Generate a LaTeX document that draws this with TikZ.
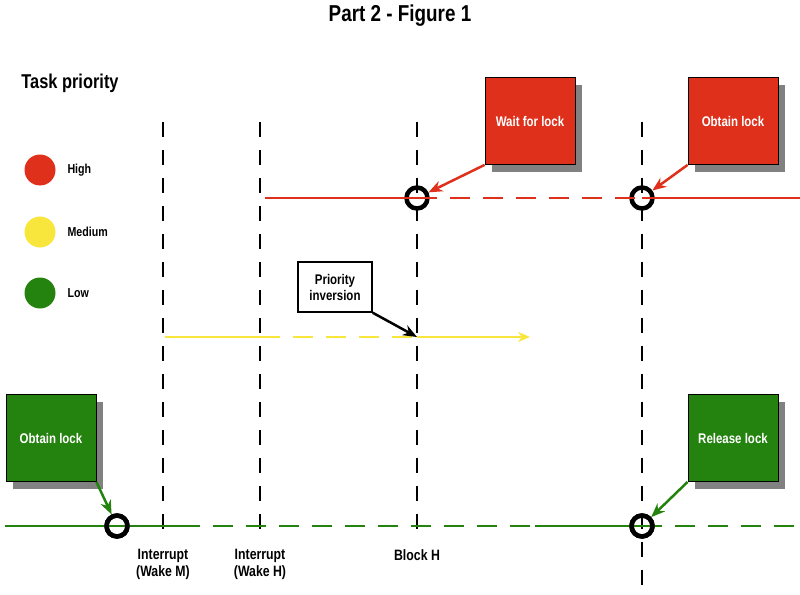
\documentclass[tikz,border=0pt]{standalone}
\usepackage{fontspec}
\setmainfont{Liberation Sans}[FakeStretch=0.82]
\usetikzlibrary{arrows.meta,shadows}
\definecolor{hired}{RGB}{222,48,26}
\definecolor{medyel}{RGB}{248,230,60}
\definecolor{lowgrn}{RGB}{36,130,14}
\tikzset{
  vline/.style={black,line width=2pt,dash pattern=on 15pt off 13pt},
  ring/.style={circle,draw=black,line width=4.5pt,minimum size=21pt,inner sep=0pt},
  lockbox/.style={draw=black,line width=0.8pt,minimum width=90pt,minimum height=87pt,
    text=white,font=\bfseries\fontsize{14}{16}\selectfont,
    drop shadow={shadow xshift=7pt,shadow yshift=-7pt,fill=black!70,opacity=.7}},
  dot/.style={circle,minimum size=31pt,inner sep=0pt},
  legend/.style={anchor=west,font=\bfseries\fontsize{13}{15}\selectfont},
  tick/.style={font=\bfseries\fontsize{15}{17}\selectfont,align=center},
  ptr/.style={line width=2.5pt,-{Stealth[length=14pt,width=11pt]}}
}
\begin{document}
\begin{tikzpicture}[x=1pt,y=-1pt]
\useasboundingbox (0,0) rectangle (800,594);
% headings
\node[font=\bfseries\fontsize{23}{27}\selectfont] (title) at (400,16) {Part 2 - Figure 1};
\node[font=\bfseries\fontsize{20}{24}\selectfont] (prio) at (70,83) {Task priority};
% legend
\node[dot,fill=hired] (dhigh) at (40,170) {};
\node[legend] at (64,170) {High};
\node[dot,fill=medyel] (dmed) at (40,232) {};
\node[legend] at (64,232) {Medium};
\node[dot,fill=lowgrn] (dlow) at (40,293) {};
\node[legend] at (64,293) {Low};
% time marks
\foreach \x/\name/\bot in {163/wm/540,260/wh/540,417/bh/540,642/rl/594}{
  \coordinate (\name top) at (\x,122);
  \coordinate (\name bot) at (\x,\bot);
  \draw[vline] (\name top) -- (\name bot);
}
\node[tick,anchor=north] (lwm) at (163,546) {Interrupt\\(Wake M)};
\node[tick,anchor=north] (lwh) at (260,546) {Interrupt\\(Wake H)};
\node[tick,anchor=north] (lbh) at (417,546) {Block H};
% high task
\coordinate (hs) at (265,198);
\coordinate (he) at (800,198);
\node[ring] (hblock) at (417,198) {};
\node[ring] (hget) at (642,198) {};
\draw[hired,line width=2.5pt] (hs) -- (hblock.center);
\draw[hired,line width=2.5pt,dash pattern=on 20pt off 13pt] (hblock.center) -- (hget.center);
\draw[hired,line width=2.5pt] (hget.center) -- (he);
% medium task
\coordinate (ms) at (165,337);
\coordinate (mw) at (260,337);
\coordinate (mb) at (417,337);
\coordinate (me) at (530,337);
\draw[medyel,line width=2.5pt] (ms) -- (mw);
\draw[medyel,line width=2.5pt,dash pattern=on 20pt off 13pt] (mw) -- (mb);
\draw[medyel,line width=2.5pt,-{Stealth[length=12pt,width=10pt]}] (mb) -- (me);
% low task
\coordinate (ls) at (5,526);
\coordinate (l1) at (180,526);
\coordinate (l2) at (535,526);
\coordinate (le) at (800,526);
\node[ring] (lget) at (117,526) {};
\node[ring] (lrel) at (642,526) {};
\draw[lowgrn,line width=2.5pt] (ls) -- (l1);
\draw[lowgrn,line width=2.5pt,dash pattern=on 20pt off 13pt] (l1) -- (l2);
\draw[lowgrn,line width=2.5pt] (l2) -- (lrel.center);
\draw[lowgrn,line width=2.5pt,dash pattern=on 20pt off 13pt] (lrel.center) -- (le);
\node[ring] at (lget) {};
\node[ring] at (lrel) {};
% callouts
\node[lockbox,fill=hired] (wait) at (530,121) {Wait for lock};
\node[lockbox,fill=hired] (hobt) at (733,121) {Obtain lock};
\node[lockbox,fill=lowgrn] (lobt) at (51,438) {Obtain lock};
\node[lockbox,fill=lowgrn] (lrls) at (733,438) {Release lock};
\node[draw=black,line width=1.5pt,fill=white,align=center,minimum width=74pt,minimum height=50pt,
  font=\bfseries\fontsize{14}{16}\selectfont] (inv) at (335,287) {Priority\\inversion};
\draw[ptr,hired] (wait.south west) -- (hblock);
\draw[ptr,hired] (hobt.south west) -- (hget);
\draw[ptr,lowgrn] (lobt.south east) -- (lget);
\draw[ptr,lowgrn] (lrls.south west) -- (lrel);
\draw[ptr,black] (inv.south east) -- (mb);
\end{tikzpicture}
\end{document}
